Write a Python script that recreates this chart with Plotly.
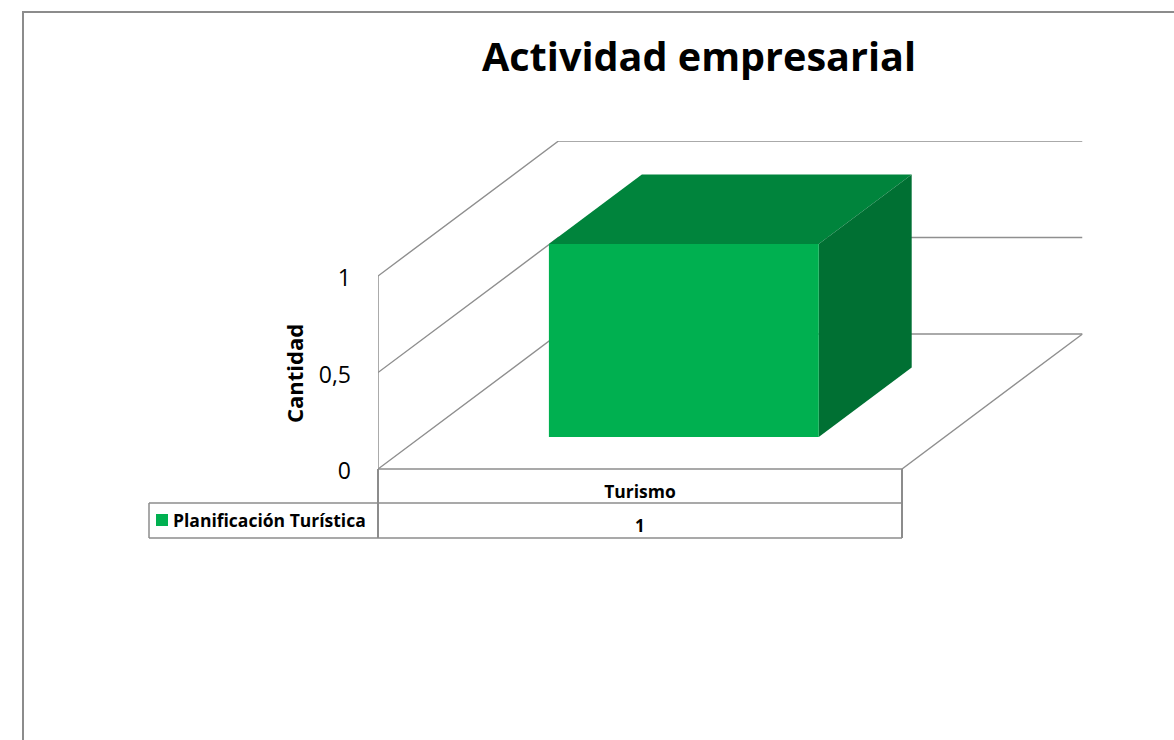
import plotly.graph_objects as go

# data
categories = ["Turismo"]
series_name = "Planificación Turística"
values = [1]
y_ticks = [0, 0.5, 1]
y_tick_labels = ["0", "0,5", "1"]

W, H = 1174, 740
FONT = "Open Sans"
GRID = "#8f8f8f"
FRAME = "#8c8c8c"
FRONT, TOP, SIDE = "#00B050", "#00843C", "#007033"

# plot box in pixels: front floor edge and size of one y unit
X0, X1, Y0 = 378, 902, 469
UNIT = 193
# oblique depth of the floor, in axis units
DX = 180.5 / (X1 - X0)
DY = 135 / UNIT
# bar placement along the category and along the depth
BAR_W = 0.515
BAR_SHIFT = 0.002
BAR_D0, BAR_D1 = 0.237, 0.752


def px(x):
    return x / W


def py(y):
    return 1 - y / H


def project(x, v, d):
    return x + d * DX, v + d * DY


def face(pts, color, name=None):
    xy = [project(*p) for p in pts]
    return go.Scatter(x=[p[0] for p in xy] + [xy[0][0]], y=[p[1] for p in xy] + [xy[0][1]],
                      mode="lines", fill="toself", fillcolor=color, line=dict(width=0),
                      name=name, hoverinfo="skip", showlegend=False)


def wire(pts, width=1.4):
    xy = [project(*p) for p in pts]
    return go.Scatter(x=[p[0] for p in xy], y=[p[1] for p in xy], mode="lines",
                      line=dict(color=GRID, width=width), hoverinfo="skip", showlegend=False)


fig = go.Figure()

# walls and floor
for t in y_ticks:
    fig.add_trace(wire([(0, t, 0), (0, t, 1), (1, t, 1)]))
fig.add_trace(wire([(0, 0, 0), (0, y_ticks[-1], 0)], 1.5))
fig.add_trace(wire([(1, 0, 0), (1, 0, 1)]))

# bar
for i, v in enumerate(values):
    c = (i + 0.5) / len(values) + BAR_SHIFT
    left, right = c - BAR_W / 2, c + BAR_W / 2
    fig.add_trace(face([(left, v, BAR_D0), (right, v, BAR_D0), (right, v, BAR_D1), (left, v, BAR_D1)], TOP))
    fig.add_trace(face([(right, 0, BAR_D0), (right, v, BAR_D0), (right, v, BAR_D1), (right, 0, BAR_D1)], SIDE))
    fig.add_trace(face([(left, 0, BAR_D0), (right, 0, BAR_D0), (right, v, BAR_D0), (left, v, BAR_D0)], FRONT,
                       name=series_name))

# frame and data table lines
shapes = []


def hline(x0, x1, y, color=FRAME, width=1.5):
    shapes.append(dict(type="line", xref="paper", yref="paper", x0=px(x0), x1=px(x1), y0=py(y), y1=py(y),
                       line=dict(color=color, width=width)))


def vline(x, y0, y1, color=FRAME, width=1.5):
    shapes.append(dict(type="line", xref="paper", yref="paper", x0=px(x), x1=px(x), y0=py(y0), y1=py(y1),
                       line=dict(color=color, width=width)))


hline(22, W, 12, width=2)
vline(23, 12, H, width=2)
hline(X0, X1, Y0)
hline(149, X1, 503)
hline(149, X1, 538)
vline(149, 503, 538)
vline(X0, Y0, 538, width=2)
vline(X1, Y0, 538, width=2)
shapes.append(dict(type="rect", xref="paper", yref="paper", x0=px(156), x1=px(168), y0=py(526), y1=py(514),
                   fillcolor=FRONT, line=dict(width=0)))

annotations = [
    dict(text="<b>Cantidad</b>", x=px(294), y=py(373), xref="paper", yref="paper", xanchor="center", yanchor="middle",
         showarrow=False, textangle=-90, font=dict(family=FONT, size=22, color="black")),
    dict(text="<b>%s</b>" % series_name, x=px(171), y=py(520), xref="paper", yref="paper", xanchor="left",
         yanchor="middle", showarrow=False, font=dict(family=FONT, size=17.5, color="black")),
]
for i, v in enumerate(values):
    annotations.append(dict(text="<b>%s</b>" % v, x=px(X0 + (i + 0.5) / len(values) * (X1 - X0)), y=py(525),
                            xref="paper", yref="paper", xanchor="center", yanchor="middle", showarrow=False,
                            font=dict(family=FONT, size=17, color="black")))

fig.update_layout(
    width=W,
    height=H,
    autosize=False,
    margin=dict(l=0, r=0, t=0, b=0),
    paper_bgcolor="white",
    plot_bgcolor="rgba(0,0,0,0)",
    showlegend=False,
    title=dict(text="<b>Actividad empresarial</b>", x=px(699), xanchor="center", xref="paper",
               y=py(57), yanchor="middle", yref="paper", automargin=False,
               font=dict(family=FONT, size=39.6, color="black")),
    xaxis=dict(domain=[px(X0), px(X1 + 180.5)], range=[0, 1 + DX], showgrid=False, zeroline=False, showline=False,
               automargin=False,
               tickmode="array", tickvals=[(i + 0.5) / len(categories) for i in range(len(categories))],
               ticktext=["<b>%s</b>" % c for c in categories], ticks="", ticklabelstandoff=10,
               tickfont=dict(family=FONT, size=17.5, color="black")),
    yaxis=dict(domain=[py(Y0), py(Y0 - UNIT - 135)], range=[0, 1 + DY], showgrid=False, zeroline=False, showline=False,
               automargin=False,
               tickmode="array", tickvals=y_ticks, ticktext=y_tick_labels, ticks="", ticklabelstandoff=26,
               ticklabelshift=2, tickfont=dict(family=FONT, size=23, color="black")),
    shapes=shapes,
    annotations=annotations,
)

fig.write_html("out.html", config=dict(displayModeBar=False), post_script="document.body.style.margin='0';")
